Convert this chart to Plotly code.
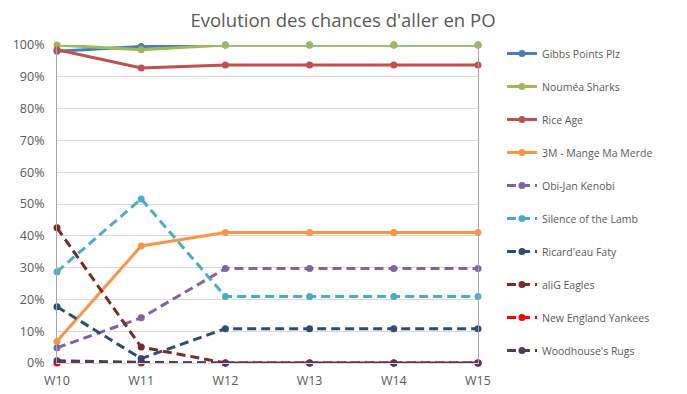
import plotly.graph_objects as go

weeks = ["W10", "W11", "W12", "W13", "W14", "W15"]
teams = ["Gibbs Points Plz", "Nouméa Sharks", "Rice Age", "3M - Mange Ma Merde",
         "Obi-Jan Kenobi", "Silence of the Lamb", "Ricard'eau Faty", "aliG Eagles",
         "New England Yankees", "Woodhouse's Rugs"]
gibbs = [0.98, 0.995, 1.0, 1.0, 1.0, 1.0]
noumea = [1.0, 0.985, 1.0, 1.0, 1.0, 1.0]
rice = [0.985, 0.928, 0.937, 0.937, 0.937, 0.937]
mange = [0.068, 0.368, 0.41, 0.41, 0.41, 0.41]
obijan = [0.048, 0.142, 0.297, 0.297, 0.297, 0.297]
silence = [0.287, 0.516, 0.209, 0.209, 0.209, 0.209]
ricard = [0.177, 0.014, 0.108, 0.108, 0.108, 0.108]
alig = [0.425, 0.05, 0.0, 0.0, 0.0, 0.0]
newengland = [0.0, 0.0, 0.0, 0.0, 0.0, 0.0]
woodhouse = [0.007, 0.002, 0.0, 0.0, 0.0, 0.0]

series = [gibbs, noumea, rice, mange, obijan, silence, ricard, alig, newengland, woodhouse]
colors = ["#4a7ebb", "#9bbb59", "#c0504d", "#f79646", "#8064a2", "#4bacc6",
          "#2c4d75", "#772c2a", "#ff0000", "#4d3b62"]
dashes = ["solid"] * 4 + ["9px,5px"] * 6

fig = go.Figure()
for name, vals, c, d in zip(teams, series, colors, dashes):
    fig.add_trace(go.Scatter(
        x=weeks, y=vals, name=name, mode="lines+markers",
        line=dict(color=c, width=3, dash=d),
        marker=dict(color=c, size=7),
        legendgroup=name, cliponaxis=False,
    ))

W, H = 679, 386
fig.update_layout(
    width=W, height=H,
    margin=dict(l=49, r=209, t=37, b=31, autoexpand=False),
    paper_bgcolor="white", plot_bgcolor="white",
    font=dict(family="Open Sans", color="#595959", size=12),
    title=dict(text="Evolution des chances d'aller en PO", x=335 / W, xanchor="center",
               xref="container", y=1 - 13 / H, yanchor="middle", yref="container",
               font=dict(size=18.5, color="#595959")),
    xaxis=dict(range=[0, 5], showgrid=False, showline=True, linecolor="#d9d9d9",
               ticks="", tickfont=dict(size=12.5), zeroline=False, automargin=False,
               ticklabelstandoff=6),
    yaxis=dict(range=[0, 1], dtick=0.1, tickformat=".0%", showgrid=True,
               gridcolor="#d9d9d9", showline=True, mirror=True, linecolor="#a6a6a6",
               zeroline=False, ticks="", tickfont=dict(size=12.5), automargin=False,
               ticklabelstandoff=9),
    legend=dict(x=1.057, xanchor="left", y=1.019, yanchor="top", tracegroupgap=14,
                maxheight=380,
                font=dict(size=10.5, color="#595959"), bgcolor="rgba(0,0,0,0)"),
    showlegend=True,
)

fig.write_html("out.html")
